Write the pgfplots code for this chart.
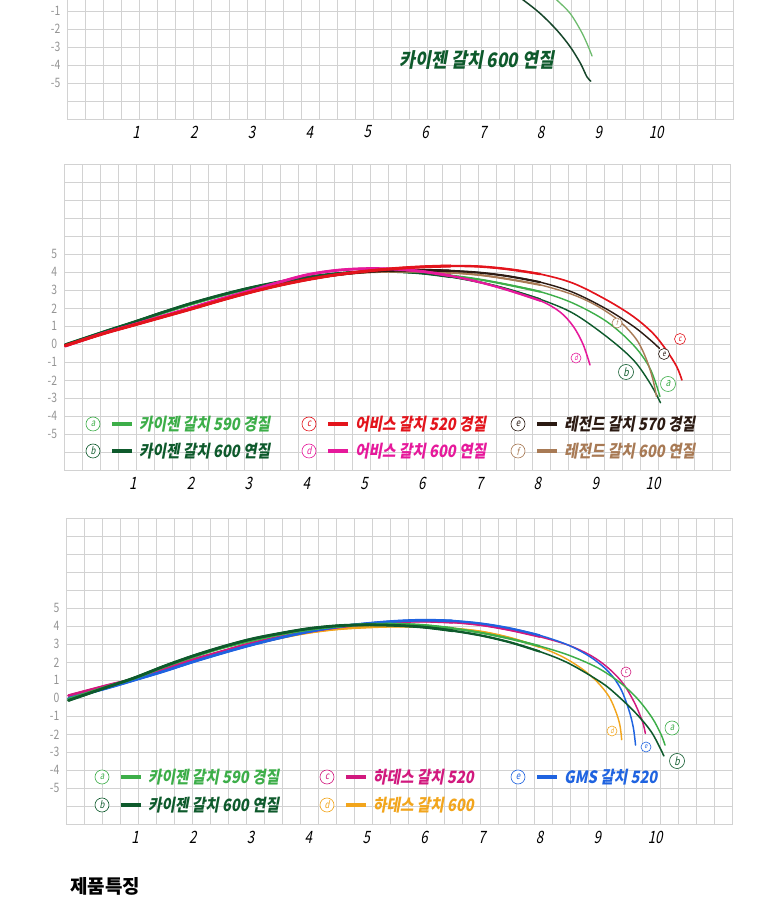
\documentclass[border=0pt]{standalone}
\usepackage{pgfplots}
\pgfplotsset{compat=1.18}
\usepackage{pgfplotstable}
\usepackage{fontspec}
\setmainfont{Noto Sans CJK KR}
\newfontfamily\legf{Noto Sans CJK KR}[FakeSlant=0.18, FakeStretch=0.86]
\newfontfamily\tickf{Noto Sans CJK KR}[FakeSlant=0.2, FakeStretch=0.78]
\newfontfamily\ytf{Noto Sans CJK KR}[FakeStretch=0.8]

\definecolor{gridc}{HTML}{D2D2D2}
\definecolor{ytc}{HTML}{949494}
\definecolor{ca}{HTML}{3DAE49}
\definecolor{cb}{HTML}{0E5A2C}
\definecolor{cc}{HTML}{E3141C}
\definecolor{cd}{HTML}{E6199B}
\definecolor{ce}{HTML}{2B1A12}
\definecolor{cf}{HTML}{A87A55}
\definecolor{hc}{HTML}{D1197E}
\definecolor{hd}{HTML}{F2A51C}
\definecolor{ge}{HTML}{1F63E0}
\definecolor{p1dark}{HTML}{16452A}
\definecolor{p1light}{HTML}{6DBB6D}

% ---- panel 1 (top, cut off) ----
\pgfplotstableread{
x y
7.8 0.8
8.05 0.25
8.28 -0.39
8.51 -1.13
8.69 -2.06
8.80 -2.79
8.89 -3.5
}\pOneLight
\pgfplotstableread{
x y
7.1 0.85
7.4 0.3
7.70 -0.39
7.99 -1.13
8.28 -2.06
8.51 -2.98
8.69 -3.91
8.80 -4.65
8.87 -4.9
}\pOneDark

% ---- panel 2 ----
\pgfplotstableread{
x y
-0.17 -0.05
0.5 0.68
1 1.18
1.5 1.72
2 2.22
2.5 2.68
3 3.08
3.5 3.42
4 3.7
4.5 3.9
5 4.03
5.5 4.06
6 3.98
6.5 3.82
7 3.6
7.5 3.3
8.05 2.92
8.62 2.28
9.2 1.26
9.66 -0.04
9.95 -1.35
10.12 -2.9
}\pTwoA
\pgfplotstableread{
x y
-0.17 -0.02
0.5 0.7
1 1.22
1.5 1.76
2 2.27
2.5 2.72
3 3.12
3.5 3.45
4 3.72
4.5 3.92
5 4.03
5.5 4.04
6 3.95
6.5 3.75
7 3.45
7.5 3.05
8.05 2.5
8.62 1.72
9.2 0.42
9.66 -0.87
9.95 -2.17
10.13 -3.25
}\pTwoB
\pgfplotstableread{
x y
-0.17 -0.08
0.5 0.6
1 1.05
1.5 1.5
2 1.95
2.5 2.42
3 2.86
3.5 3.25
4 3.58
4.5 3.85
5 4.05
5.5 4.2
6 4.3
6.5 4.35
7 4.32
7.5 4.17
8.05 3.9
8.62 3.39
9.2 2.46
9.66 1.54
10.0 0.61
10.23 -0.32
10.41 -1.24
10.5 -1.98
}\pTwoC
\pgfplotstableread{
x y
-0.17 -0.1
0.5 0.62
1 1.08
1.5 1.55
2 2.02
2.5 2.5
3 2.95
3.5 3.42
4 3.85
4.5 4.1
5 4.2
5.5 4.18
6 4.05
6.5 3.8
7 3.45
7.5 3.0
8.05 2.42
8.39 1.8
8.62 1.0
8.79 0.0
8.91 -1.15
}\pTwoD
\pgfplotstableread{
x y
-0.17 -0.06
0.5 0.62
1 1.07
1.5 1.52
2 1.98
2.5 2.44
3 2.88
3.5 3.27
4 3.6
4.5 3.85
5 4.02
5.5 4.1
6 4.12
6.5 4.08
7 3.98
7.5 3.78
8.05 3.45
8.62 2.88
9.2 1.95
9.66 1.0
9.95 0.25
10.11 -0.22
}\pTwoE
\pgfplotstableread{
x y
-0.17 -0.06
0.5 0.62
1 1.07
1.5 1.52
2 1.98
2.5 2.44
3 2.88
3.5 3.27
4 3.6
4.5 3.85
5 4.0
5.5 4.05
6 4.05
6.5 3.98
7 3.85
7.5 3.62
8.05 3.3
8.62 2.75
9.05 2.1
9.43 1.26
9.72 0.24
9.89 -0.87
10.0 -1.98
10.06 -2.9
}\pTwoF

% ---- panel 3 ----
\pgfplotstableread{
x y
-0.15 -0.05
0.5 0.62
1 1.13
1.5 1.75
2 2.3
2.5 2.8
3 3.2
3.5 3.55
4 3.82
4.5 4.0
5 4.1
5.5 4.12
6 4.05
6.5 3.88
7 3.63
7.5 3.3
8 2.9
8.5 2.4
9 1.7
9.4 0.85
9.7 -0.05
9.95 -1.1
10.1 -2.0
10.17 -2.6
}\pThreeA
\pgfplotstableread{
x y
-0.15 -0.12
0.5 0.6
1 1.15
1.5 1.78
2 2.35
2.5 2.85
3 3.28
3.5 3.6
4 3.87
4.5 4.03
5 4.08
5.5 4.05
6 3.95
6.5 3.75
7 3.48
7.5 3.1
8 2.6
8.5 1.95
9.08 0.85
9.4 0.0
9.7 -0.95
9.95 -1.95
10.15 -3.2
}\pThreeB
\pgfplotstableread{
x y
-0.15 0.15
0.5 0.7
1 1.1
1.5 1.65
2 2.15
2.5 2.6
3 3.05
3.5 3.4
4 3.7
4.5 3.95
5 4.12
5.5 4.24
6 4.28
6.5 4.22
7 4.06
7.5 3.78
8 3.42
8.5 2.95
8.9 2.35
9.2 1.65
9.45 0.8
9.65 -0.3
9.78 -1.3
9.83 -1.95
}\pThreeC
\pgfplotstableread{
x y
-0.15 0.0
0.5 0.6
1 1.08
1.5 1.6
2 2.1
2.5 2.55
3 2.98
3.5 3.35
4 3.65
4.5 3.85
5 3.95
5.5 4.0
6 3.98
6.5 3.88
7 3.7
7.5 3.35
8 2.85
8.4 2.3
8.75 1.6
9.0 0.9
9.2 0.1
9.32 -0.75
9.39 -1.5
9.42 -2.3
}\pThreeD
\pgfplotstableread{
x y
-0.15 0.0
0.5 0.55
1 1.02
1.5 1.5
2 2.02
2.5 2.5
3 2.95
3.5 3.35
4 3.7
4.5 3.97
5 4.15
5.5 4.28
6 4.34
6.5 4.3
7 4.15
7.5 3.88
8 3.5
8.5 2.95
8.9 2.25
9.2 1.45
9.4 0.55
9.54 -0.6
9.62 -1.6
9.66 -2.6
}\pThreeE

\pgfplotsset{
  panel/.style={
    x=57.8pt, y=18pt,
    xmin=-0.185, xmax=11.337, ymin=-7, ymax=10,
    anchor=south west,
    axis line style={draw=gridc, line width=0.6pt},
    xtick={1,...,10}, xticklabels={1,2,3,4,5,6,7,8,9,10},
    ytick={-5,...,5}, yticklabels={-5,-4,-3,-2,-1,0,1,2,3,4,5},
    minor xtick={-0.185,0.126419,...,11.4},
    minor ytick={-7,...,10},
    xminorgrids, yminorgrids,
    minor grid style={draw=gridc, line width=0.6pt},
    major tick length=0pt, minor tick length=0pt,
    xticklabel style={font=\tickf\fontsize{17}{17}\selectfont, anchor=center, inner sep=0pt, yshift=-13pt},
    yticklabel style={font=\ytf\fontsize{13}{13}\selectfont, text=ytc, anchor=east, inner sep=0pt, xshift=-7pt},
  },
  crv/.style={smooth, tension=0.55, line cap=round},
}

% a curve drawn thick at the start and thinner towards its end
\newcommand{\taper}[3]{%
  \addplot[crv, #2, line width=#3*0.55pt] table {#1};
  \addplot[crv, #2, line width=#3*0.8pt, restrict x to domain=-1:8.3] table {#1};
  \addplot[crv, #2, line width=#3*1pt, restrict x to domain=-1:6.6] table {#1};
}

% circled letter: x, y, letter, colour, diameter, font size
\newcommand{\ctag}[6]{\node[circle, draw=#4, fill=white, line width=0.6pt, minimum size=#5pt, inner sep=0pt, text=#4] at (#1,#2) {\tickf\fontsize{#6}{#6}\selectfont #3};}
% legend item: x, y, letter, colour, text
\newcommand{\legitem}[5]{%
  \ctag{#1}{#2}{#3}{#4}{14}{10}
  \draw[#4, line width=4.5pt] (#1+19,#2) -- (#1+39,#2);
  \node[anchor=west, inner sep=0pt, text=#4] at (#1+46,#2) {\legf\bfseries\fontsize{17}{17}\selectfont #5};}

\begin{document}
\begin{tikzpicture}
\useasboundingbox (0,0) rectangle (780pt,897pt);
\clip (0,0) rectangle (780pt,897pt);

% ---------- panel 1 ----------
\begin{axis}[panel, at={(67.5pt,778pt)},
  ytick={-5,...,-1}, yticklabels={-5,-4,-3,-2,-1}]
\addplot[crv, p1light, line width=1.3pt] table {\pOneLight};
\addplot[crv, p1dark, line width=1.5pt] table {\pOneDark};
\end{axis}

% ---------- panel 2 ----------
\begin{axis}[panel, at={(64.3pt,426.7pt)}]
\taper{\pTwoA}{ca}{2.6}
\taper{\pTwoB}{cb}{2.6}
\taper{\pTwoF}{cf}{2.6}
\taper{\pTwoE}{ce}{2.6}
\taper{\pTwoD}{cd}{2.8}
\taper{\pTwoC}{cc}{3.0}
\end{axis}

% ---------- panel 3 ----------
\begin{axis}[panel, at={(66.5pt,72.7pt)}]
\taper{\pThreeD}{hd}{2.6}
\taper{\pThreeC}{hc}{2.7}
\taper{\pThreeE}{ge}{2.7}
\taper{\pThreeA}{ca}{2.7}
\taper{\pThreeB}{cb}{2.8}
\end{axis}

% ---------- texts, legends and curve tags (image pixel coordinates) ----------
\begin{scope}[x=1pt, y=-1pt, shift={(0,897pt)}]
\node[text=cb] at (477,60) {\legf\bfseries\fontsize{20}{20}\selectfont 카이젠 갈치 600 연질};

\legitem{93}{424}{a}{ca}{카이젠 갈치 590 경질}
\legitem{93}{451}{b}{cb}{카이젠 갈치 600 연질}
\legitem{309}{424}{c}{cc}{어비스 갈치 520 경질}
\legitem{309}{451}{d}{cd}{어비스 갈치 600 연질}
\legitem{518}{424}{e}{ce}{레전드 갈치 570 경질}
\legitem{518}{451}{f}{cf}{레전드 갈치 600 연질}

\ctag{668}{384}{a}{ca}{15}{11}
\ctag{626}{372}{b}{cb}{15}{11}
\ctag{680}{339}{c}{cc}{11}{8}
\ctag{576}{358}{d}{cd}{10}{7}
\ctag{664}{354}{e}{ce}{11}{8}
\ctag{617}{323}{f}{cf}{10}{7}

\legitem{102}{777}{a}{ca}{카이젠 갈치 590 경질}
\legitem{102}{805}{b}{cb}{카이젠 갈치 600 연질}
\legitem{327}{777}{c}{hc}{하데스 갈치 520}
\legitem{327}{805}{d}{hd}{하데스 갈치 600}
\legitem{518}{777}{e}{ge}{GMS 갈치 520}

\ctag{672}{728}{a}{ca}{14}{10}
\ctag{677}{761}{b}{cb}{15}{11}
\ctag{626}{672}{c}{hc}{10}{7}
\ctag{612}{731}{d}{hd}{10}{7}
\ctag{646}{747}{e}{ge}{10}{7}

\node[anchor=base west, inner sep=0pt] at (70,893) {\bfseries\fontsize{19}{19}\selectfont 제품특징};
\end{scope}
\end{tikzpicture}
\end{document}
